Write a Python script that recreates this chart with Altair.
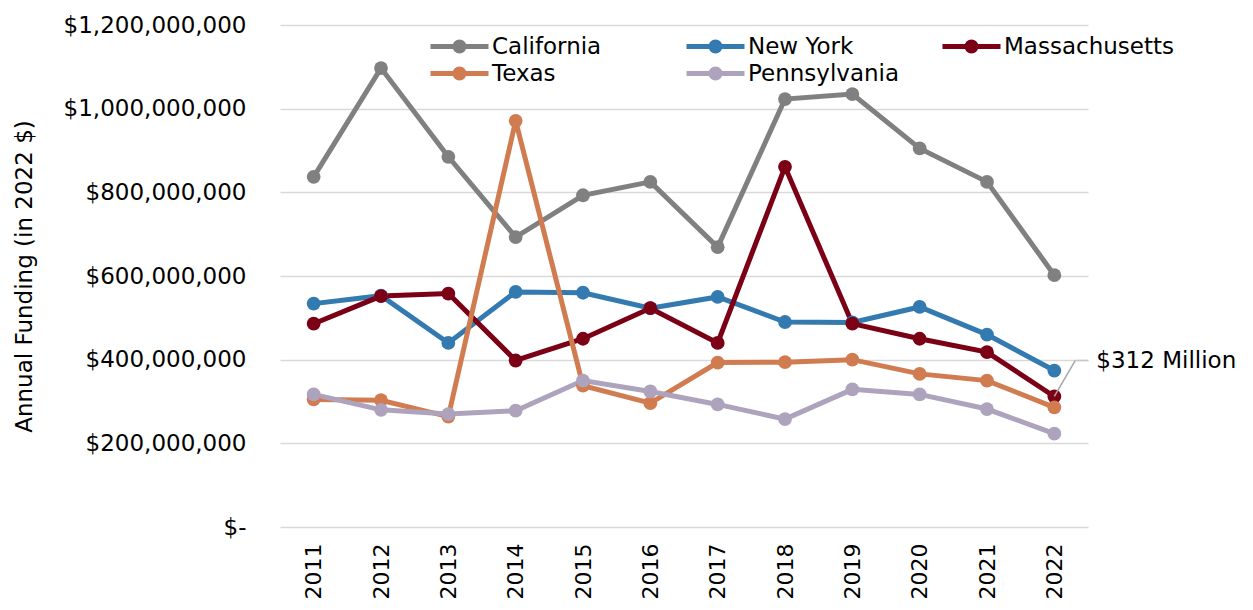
import altair as alt
import pandas as pd

years = [2011, 2012, 2013, 2014, 2015, 2016, 2017, 2018, 2019, 2020, 2021, 2022]
states = ["California", "New York", "Massachusetts", "Texas", "Pennsylvania"]
colors = ["#808080", "#337ab0", "#7b0015", "#d17c50", "#aea3bc"]
# legend fills column by column (2 rows), so this order shows rows as in the reference
legend_order = ["California", "Texas", "New York", "Pennsylvania", "Massachusetts"]

# values in millions of 2022 dollars
california = [837, 1097, 885, 693, 793, 825, 669, 1023, 1035, 905, 825, 602]
new_york = [534, 553, 440, 562, 560, 523, 550, 490, 489, 526, 460, 374]
massachusetts = [486, 552, 558, 398, 450, 523, 440, 861, 486, 450, 418, 312]
texas = [305, 303, 264, 971, 338, 296, 393, 394, 400, 366, 350, 286]
pennsylvania = [317, 280, 270, 278, 350, 324, 293, 258, 329, 317, 282, 223]

y_ticks = [0, 200e6, 400e6, 600e6, 800e6, 1000e6, 1200e6]
annotation_text = "$312 Million"

series = [california, new_york, massachusetts, texas, pennsylvania]
rows = []
for st, vals in zip(states, series):
    for yr, v in zip(years, vals):
        rows.append({"Year": yr, "State": st, "Funding": v * 1e6})
df = pd.DataFrame(rows)

ann = pd.DataFrame([{"Year": 2022, "Funding": massachusetts[-1] * 1e6, "label": annotation_text}])

FONT = "DejaVu Sans"
color_map = dict(zip(states, colors))

# custom legend symbol: line with a dot
sym_path = ("M-2.9,0L2.9,0"
            "M0.45,0A0.45,0.45 0 1,1 -0.45,0A0.45,0.45 0 1,1 0.45,0"
            "M0.2,0A0.2,0.2 0 1,1 -0.2,0A0.2,0.2 0 1,1 0.2,0")

x_enc = alt.X("Year:O", title=None, sort=years,
              scale=alt.Scale(type="point", padding=0.5),
              axis=alt.Axis(labelAngle=-90, labelFontSize=22, labelPadding=16,
                            domain=False, ticks=False, grid=False,
                            labelColor="#000", labelFont=FONT))
y_enc = alt.Y("Funding:Q", title="Annual Funding (in 2022 $)",
              scale=alt.Scale(domain=[0, 1200e6], nice=False),
              axis=alt.Axis(values=y_ticks,
                            labelExpr="datum.value == 0 ? '$-' : '$' + format(datum.value, ',')",
                            labelFontSize=23, labelPadding=34, labelColor="#000",
                            labelLimit=400,
                            labelFont=FONT, domain=False, ticks=False,
                            gridColor="#d9d9d9", gridWidth=1.5,
                            titleFontSize=23, titleFontWeight="normal", titleColor="#000",
                            titleFont=FONT, titleX=-256, titleBaseline="middle"))

lines = alt.Chart(df).mark_line(
    strokeWidth=5,
    point=alt.OverlayMarkDef(size=190, filled=True, opacity=1),
).encode(
    x=x_enc,
    y=y_enc,
    color=alt.Color("State:N", sort=legend_order,
                    scale=alt.Scale(domain=legend_order,
                                    range=[color_map[s] for s in legend_order]),
                    legend=alt.Legend(title=None, orient="none", legendX=167, legendY=9,
                                      columns=3, gridAlign="all", columnPadding=14,
                                      rowPadding=-2, padding=0, labelLimit=400,
                                      symbolType=sym_path, symbolSize=400,
                                      symbolStrokeWidth=5, symbolOpacity=1,
                                      labelFontSize=23, labelOffset=20,
                                      labelColor="#000", labelFont=FONT)),
    order=alt.Order("Year:O"),
)

leader1 = alt.Chart(ann).mark_rule(color="#a6a6a6", strokeWidth=1.5,
                                   x2Offset=21, y2Offset=-36).encode(
    x=alt.X("Year:O", sort=years), y="Funding:Q",
    x2=alt.X2("Year"), y2=alt.Y2("Funding"))
leader2 = alt.Chart(ann).mark_rule(color="#c8c8c8", strokeWidth=1.5,
                                   xOffset=21, yOffset=-36,
                                   x2Offset=34, y2Offset=-36).encode(
    x=alt.X("Year:O", sort=years), y="Funding:Q",
    x2=alt.X2("Year"), y2=alt.Y2("Funding"))
label = alt.Chart(ann).mark_text(align="left", baseline="middle", dx=42, dy=-35,
                                 fontSize=23, font=FONT, color="#000").encode(
    x=alt.X("Year:O", sort=years), y="Funding:Q", text="label:N")

chart = alt.layer(lines, leader1, leader2, label).properties(
    width=808, height=502,
    autosize=alt.AutoSizeParams(type="none"),
    padding={"left": 272, "top": 17, "right": 157, "bottom": 75},
).configure(font=FONT).configure_view(stroke="transparent", strokeWidth=0)

chart.save("out.html", embed_options={"renderer": "svg", "actions": False})
